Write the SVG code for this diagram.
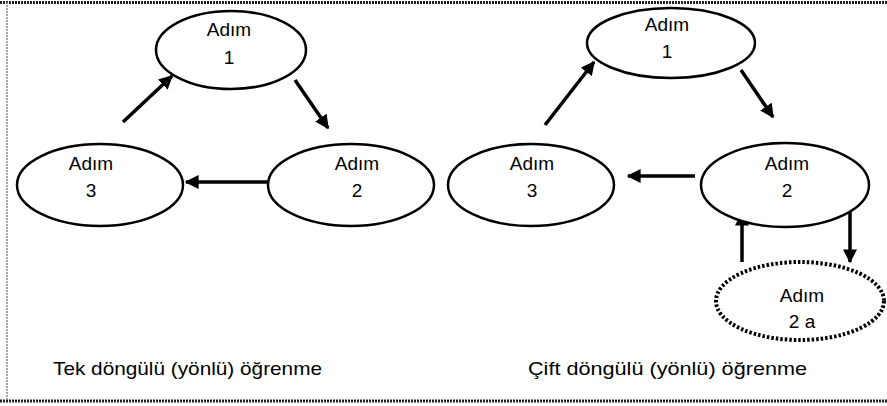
<svg xmlns="http://www.w3.org/2000/svg" width="887" height="406" viewBox="0 0 887 406">
<style>
.bg{fill:#fff}
.node{fill:#fff;stroke:#000;stroke-width:2.5}
.dot{fill:#fff;stroke:#000;stroke-width:4;stroke-dasharray:2.5 2}
.lbl{font-family:"Liberation Sans",Arial,sans-serif;font-size:19px;fill:#000;text-anchor:middle}
.cap{font-family:"Liberation Sans",Arial,sans-serif;font-size:19px;fill:#000}
.edge{stroke:#000;stroke-width:3.5;fill:none;marker-end:url(#ah)}
</style>
<defs>
<marker id="ah" viewBox="0 0 10 10" refX="9" refY="5" markerWidth="4" markerHeight="4" orient="auto" markerUnits="strokeWidth">
<path d="M0,0 L10,5 L0,10 z" fill="#000"/>
</marker>
</defs>
<rect class="bg" x="0" y="0" width="887" height="406"/>
<g id="frame">
<line x1="0" y1="2.5" x2="887" y2="2.5" stroke="#222" stroke-width="3" stroke-dasharray="2 1"/>
<line x1="0" y1="401" x2="887" y2="401" stroke="#222" stroke-width="3" stroke-dasharray="2 1"/>
<line x1="7" y1="2" x2="7" y2="401" stroke="#888" stroke-width="1.5" stroke-dasharray="2 1"/>
</g>
<g id="connectors">
<line class="edge" x1="123" y1="122" x2="172" y2="76"/>
<line class="edge" x1="295" y1="80" x2="328" y2="128"/>
<line class="edge" x1="268" y1="182" x2="186" y2="182"/>
<line class="edge" x1="545" y1="125" x2="594" y2="62"/>
<line class="edge" x1="741" y1="70" x2="773" y2="117"/>
<line class="edge" x1="695" y1="176" x2="628" y2="176"/>
<line class="edge" x1="742" y1="262" x2="742" y2="213"/>
<line class="edge" x1="850" y1="212" x2="850" y2="262"/>
</g>
<g id="l-step1">
<ellipse class="node" cx="231" cy="50" rx="75" ry="39"/>
<text class="lbl" x="229" y="36">Adım</text>
<text class="lbl" x="229" y="64">1</text>
</g>
<g id="l-step3">
<ellipse class="node" cx="100" cy="185" rx="83" ry="41"/>
<text class="lbl" x="91" y="170">Adım</text>
<text class="lbl" x="91" y="197">3</text>
</g>
<g id="l-step2">
<ellipse class="node" cx="351" cy="185" rx="83" ry="41"/>
<text class="lbl" x="357" y="170">Adım</text>
<text class="lbl" x="357" y="197">2</text>
</g>
<g id="r-step1">
<ellipse class="node" cx="671" cy="43" rx="84" ry="35"/>
<text class="lbl" x="667" y="31">Adım</text>
<text class="lbl" x="667" y="58">1</text>
</g>
<g id="r-step3">
<ellipse class="node" cx="531" cy="185" rx="83" ry="41"/>
<text class="lbl" x="532" y="170">Adım</text>
<text class="lbl" x="532" y="197">3</text>
</g>
<g id="r-step2">
<ellipse class="node" cx="785" cy="185" rx="84" ry="42"/>
<text class="lbl" x="787" y="170">Adım</text>
<text class="lbl" x="787" y="197">2</text>
</g>
<g id="r-step2a">
<ellipse class="dot" cx="800" cy="301" rx="84" ry="39"/>
<text class="lbl" x="802" y="302">Adım</text>
<text class="lbl" x="802" y="328">2 a</text>
</g>
<g id="captions">
<text class="cap" x="53" y="375" textLength="269" lengthAdjust="spacingAndGlyphs">Tek döngülü (yönlü) öğrenme</text>
<text class="cap" x="528" y="375" textLength="279" lengthAdjust="spacingAndGlyphs">Çift döngülü (yönlü) öğrenme</text>
</g>
</svg>
